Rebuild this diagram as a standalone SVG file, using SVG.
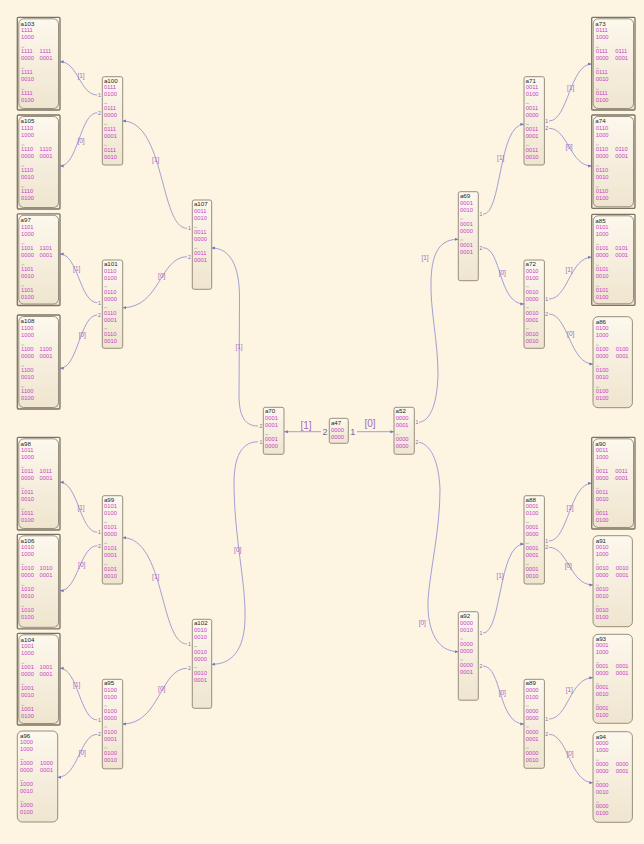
<svg xmlns="http://www.w3.org/2000/svg" width="644" height="844" viewBox="0 0 644 844">
<defs>
<linearGradient id="g" x1="0" y1="0" x2="0" y2="1"><stop offset="0" stop-color="#fdf8ed"/><stop offset="1" stop-color="#efe5cf"/></linearGradient>
<marker id="a" viewBox="0 0 6 6" refX="6" refY="3" markerWidth="3.6" markerHeight="3.6" markerUnits="userSpaceOnUse" orient="auto"><path d="M0,0.4L6,3L0,5.6z" fill="#7474bc"/></marker>
<style>
.b{fill:url(#g);stroke:#8b8373;stroke-width:0.9}
.o{fill:url(#g);stroke:#7b7363;stroke-width:1.3}
text{font-family:"Liberation Sans",Arial,sans-serif}
.t{font-size:6.2px;fill:#1e1e1e}
.v{font-size:5.8px;fill:#c93ec9}
.d{stroke:#aaa39a;stroke-width:0.6;fill:none}
.p{font-size:5px;fill:#6870a8;text-anchor:middle}
.P{font-size:9px;fill:#6870a8;text-anchor:middle}
.e{fill:none;stroke:#8a8ad2;stroke-width:0.8;marker-end:url(#a)}
.l{font-size:6.5px;fill:#a06cc6;text-anchor:middle}
.L{font-size:10px;fill:#a06cc6;text-anchor:middle}
</style>
</defs>
<rect width="644" height="844" fill="#fdf4e2"/>

<g id="connectors">
<path class="e" d="M97.3,95C80,95 78,61.7 60,61.7"/>
<path class="e" d="M97.3,112.7C80,112.7 78,166 60,166"/>
<path class="e" d="M97.3,302.7C80,302.7 78,254 60,254"/>
<path class="e" d="M97.3,315C80,315 78,368.3 60,368.3"/>
<path class="e" d="M97.3,532.3C80,532.3 78,482.3 60,482.3"/>
<path class="e" d="M97.3,545.7C80,545.7 78,590.7 60,590.7"/>
<path class="e" d="M97.3,720C80,720 78,668.3 60,668.3"/>
<path class="e" d="M97.3,734.3C80,734.3 78,777.3 57.7,777.3"/>
<path class="e" d="M187,228.3C160,228.3 165,121 122.7,121"/>
<path class="e" d="M187,256.7C160,256.7 160,307.7 122.7,307.7"/>
<path class="e" d="M187,644C160,644 165,537.7 122.7,537.7"/>
<path class="e" d="M187,668.3C160,668.3 160,724 122.7,724"/>
<path class="e" d="M258,426C246,426 239,418 239,395L239.5,300C240,262 228,248 211.7,248"/>
<path class="e" d="M258,441.7C244,442 235,452 234,480C234,540 246,580 245,620C244,650 232,664.3 211.7,664.3"/>
<path class="e" d="M321,431.7L284.3,431.7"/>
<path class="e" d="M357,431.7L394,431.7"/>
<path class="e" d="M419,422.3C430,421 437,405 438,375C438,340 430,310 431,280C432,252 440,239.3 458.3,239.3"/>
<path class="e" d="M419,442.3C430,444 439,460 440,490C440,530 430,570 428,600C427,632 438,651.7 458.3,651.7"/>
<path class="e" d="M483,214.3C502,214.3 498,124.3 524,124.3"/>
<path class="e" d="M483,247.7C502,247.7 498,304 524,304"/>
<path class="e" d="M483,633C502,633 498,544 524,544"/>
<path class="e" d="M483,666C502,666 498,724 524,724"/>
<path class="e" d="M549,121C568,121 570,64 591.7,64"/>
<path class="e" d="M549,128.3C568,128.3 570,166 591.7,166"/>
<path class="e" d="M549,299C568,299 570,257.3 591.7,257.3"/>
<path class="e" d="M549,314C568,314 570,364 593,364"/>
<path class="e" d="M549,541C568,541 570,483.3 591.7,483.3"/>
<path class="e" d="M549,547.3C568,547.3 570,585 593,585"/>
<path class="e" d="M549,719C568,719 570,677.7 593,677.7"/>
<path class="e" d="M549,734.3C568,734.3 570,782.7 593,782.7"/>
<text class="l" x="81" y="78.3">[1]</text>
<text class="l" x="81" y="143">[0]</text>
<text class="l" x="76.7" y="270.6">[1]</text>
<text class="l" x="82.3" y="336.6">[0]</text>
<text class="l" x="81" y="509.6">[1]</text>
<text class="l" x="81.7" y="566.6">[0]</text>
<text class="l" x="76.7" y="686.6">[1]</text>
<text class="l" x="82.3" y="754.6">[0]</text>
<text class="l" x="155.7" y="161.6">[1]</text>
<text class="l" x="161.7" y="278">[0]</text>
<text class="l" x="155.7" y="579">[1]</text>
<text class="l" x="161.7" y="690.6">[0]</text>
<text class="l" x="239" y="349">[1]</text>
<text class="l" x="237.7" y="552.3">[0]</text>
<text class="L" x="306" y="429.3">[1]</text>
<text class="L" x="370" y="427">[0]</text>
<text class="l" x="425" y="259.6">[1]</text>
<text class="l" x="422.3" y="625.3">[0]</text>
<text class="l" x="500.7" y="160">[1]</text>
<text class="l" x="502.3" y="275">[0]</text>
<text class="l" x="500" y="578.3">[1]</text>
<text class="l" x="502.3" y="694.6">[0]</text>
<text class="l" x="570.7" y="89.6">[1]</text>
<text class="l" x="569" y="149">[0]</text>
<text class="l" x="569" y="271.6">[1]</text>
<text class="l" x="570.7" y="336.3">[0]</text>
<text class="l" x="570" y="509.6">[1]</text>
<text class="l" x="568.3" y="568.3">[0]</text>
<text class="l" x="569.3" y="691.6">[1]</text>
<text class="l" x="570" y="755.6">[0]</text>
<text class="p" x="99.5" y="96.8">1</text>
<text class="p" x="99.5" y="114.5">2</text>
<text class="p" x="99.5" y="304.5">1</text>
<text class="p" x="99.5" y="316.8">2</text>
<text class="p" x="99.5" y="534.1">1</text>
<text class="p" x="99.5" y="547.5">2</text>
<text class="p" x="99.5" y="721.8">1</text>
<text class="p" x="99.5" y="736.1">2</text>
<text class="p" x="189.5" y="230.1">1</text>
<text class="p" x="189.5" y="258.5">2</text>
<text class="p" x="189.5" y="645.8">1</text>
<text class="p" x="189.5" y="670.1">2</text>
<text class="p" x="260.8" y="427.8">2</text>
<text class="p" x="260.8" y="443.5">1</text>
<text class="P" x="325" y="434.9">2</text>
<text class="P" x="352.7" y="434.9">1</text>
<text class="p" x="416.8" y="424.1">1</text>
<text class="p" x="416.8" y="444.1">2</text>
<text class="p" x="481" y="216.1">1</text>
<text class="p" x="481" y="249.5">2</text>
<text class="p" x="481" y="634.8">1</text>
<text class="p" x="481" y="667.8">2</text>
<text class="p" x="546.7" y="122.8">1</text>
<text class="p" x="546.7" y="130.1">2</text>
<text class="p" x="546.7" y="300.8">1</text>
<text class="p" x="546.7" y="315.8">2</text>
<text class="p" x="546.7" y="542.8">1</text>
<text class="p" x="546.7" y="549.1">2</text>
<text class="p" x="546.7" y="720.8">1</text>
<text class="p" x="546.7" y="736.1">2</text>
</g>

<g id="a103" transform="translate(17.3,17.3)"><rect class="o" width="42.7" height="92.7" rx="1"/><rect class="b" x="1.5" y="1.5" width="39.7" height="89.7" rx="5"/><text class="t" x="3.3" y="8.3">a103</text><text class="v"><tspan x="3.8" y="15">1111</tspan><tspan x="3.8" y="22">1000</tspan><tspan x="3.8" y="36">1111</tspan><tspan x="22.3" y="36">1111</tspan><tspan x="3.8" y="43">0000</tspan><tspan x="22.3" y="43">0001</tspan><tspan x="3.8" y="57">1111</tspan><tspan x="3.8" y="64">0010</tspan><tspan x="3.8" y="78">1111</tspan><tspan x="3.8" y="85">0100</tspan></text><path class="d" d="M4,30h3M4,51h3M4,72h3"/></g>
<g id="a105" transform="translate(17.3,115)"><rect class="o" width="42.7" height="94" rx="1"/><rect class="b" x="1.5" y="1.5" width="39.7" height="91" rx="5"/><text class="t" x="3.3" y="8.3">a105</text><text class="v"><tspan x="3.8" y="15">1110</tspan><tspan x="3.8" y="22">1000</tspan><tspan x="3.8" y="36">1110</tspan><tspan x="22.3" y="36">1110</tspan><tspan x="3.8" y="43">0000</tspan><tspan x="22.3" y="43">0001</tspan><tspan x="3.8" y="57">1110</tspan><tspan x="3.8" y="64">0010</tspan><tspan x="3.8" y="78">1110</tspan><tspan x="3.8" y="85">0100</tspan></text><path class="d" d="M4,30h3M4,51h3M4,72h3"/></g>
<g id="a97" transform="translate(17.3,213.8)"><rect class="o" width="42.7" height="91.7" rx="1"/><rect class="b" x="1.5" y="1.5" width="39.7" height="88.7" rx="5"/><text class="t" x="3.3" y="8.3">a97</text><text class="v"><tspan x="3.8" y="15">1101</tspan><tspan x="3.8" y="22">1000</tspan><tspan x="3.8" y="36">1101</tspan><tspan x="22.3" y="36">1101</tspan><tspan x="3.8" y="43">0000</tspan><tspan x="22.3" y="43">0001</tspan><tspan x="3.8" y="57">1101</tspan><tspan x="3.8" y="64">0010</tspan><tspan x="3.8" y="78">1101</tspan><tspan x="3.8" y="85">0100</tspan></text><path class="d" d="M4,30h3M4,51h3M4,72h3"/></g>
<g id="a108" transform="translate(17.3,315)"><rect class="o" width="42.7" height="94" rx="1"/><rect class="b" x="1.5" y="1.5" width="39.7" height="91" rx="5"/><text class="t" x="3.3" y="8.3">a108</text><text class="v"><tspan x="3.8" y="15">1100</tspan><tspan x="3.8" y="22">1000</tspan><tspan x="3.8" y="36">1100</tspan><tspan x="22.3" y="36">1100</tspan><tspan x="3.8" y="43">0000</tspan><tspan x="22.3" y="43">0001</tspan><tspan x="3.8" y="57">1100</tspan><tspan x="3.8" y="64">0010</tspan><tspan x="3.8" y="78">1100</tspan><tspan x="3.8" y="85">0100</tspan></text><path class="d" d="M4,30h3M4,51h3M4,72h3"/></g>
<g id="a98" transform="translate(17.3,437.3)"><rect class="o" width="42.7" height="92.7" rx="1"/><rect class="b" x="1.5" y="1.5" width="39.7" height="89.7" rx="5"/><text class="t" x="3.3" y="8.3">a98</text><text class="v"><tspan x="3.8" y="15">1011</tspan><tspan x="3.8" y="22">1000</tspan><tspan x="3.8" y="36">1011</tspan><tspan x="22.3" y="36">1011</tspan><tspan x="3.8" y="43">0000</tspan><tspan x="22.3" y="43">0001</tspan><tspan x="3.8" y="57">1011</tspan><tspan x="3.8" y="64">0010</tspan><tspan x="3.8" y="78">1011</tspan><tspan x="3.8" y="85">0100</tspan></text><path class="d" d="M4,30h3M4,51h3M4,72h3"/></g>
<g id="a106" transform="translate(17.3,534.3)"><rect class="o" width="42.7" height="94.5" rx="1"/><rect class="b" x="1.5" y="1.5" width="39.7" height="91.5" rx="5"/><text class="t" x="3.3" y="8.3">a106</text><text class="v"><tspan x="3.8" y="15">1010</tspan><tspan x="3.8" y="22">1000</tspan><tspan x="3.8" y="36">1010</tspan><tspan x="22.3" y="36">1010</tspan><tspan x="3.8" y="43">0000</tspan><tspan x="22.3" y="43">0001</tspan><tspan x="3.8" y="57">1010</tspan><tspan x="3.8" y="64">0010</tspan><tspan x="3.8" y="78">1010</tspan><tspan x="3.8" y="85">0100</tspan></text><path class="d" d="M4,30h3M4,51h3M4,72h3"/></g>
<g id="a104" transform="translate(17.3,633.3)"><rect class="o" width="42.7" height="91.7" rx="1"/><rect class="b" x="1.5" y="1.5" width="39.7" height="88.7" rx="5"/><text class="t" x="3.3" y="8.3">a104</text><text class="v"><tspan x="3.8" y="15">1001</tspan><tspan x="3.8" y="22">1000</tspan><tspan x="3.8" y="36">1001</tspan><tspan x="22.3" y="36">1001</tspan><tspan x="3.8" y="43">0000</tspan><tspan x="22.3" y="43">0001</tspan><tspan x="3.8" y="57">1001</tspan><tspan x="3.8" y="64">0010</tspan><tspan x="3.8" y="78">1001</tspan><tspan x="3.8" y="85">0100</tspan></text><path class="d" d="M4,30h3M4,51h3M4,72h3"/></g>
<g id="a96" transform="translate(17.3,731)"><rect class="b" width="40.4" height="91" rx="5"/><text class="t" x="2.7" y="7.2">a96</text><text class="v"><tspan x="2.7" y="13">1000</tspan><tspan x="2.7" y="20">1000</tspan><tspan x="2.7" y="34">1000</tspan><tspan x="22.7" y="34">1000</tspan><tspan x="2.7" y="41">0000</tspan><tspan x="22.7" y="41">0001</tspan><tspan x="2.7" y="55">1000</tspan><tspan x="2.7" y="62">0010</tspan><tspan x="2.7" y="76">1000</tspan><tspan x="2.7" y="83">0100</tspan></text><path class="d" d="M3,28.5h3M3,49.5h3M3,70.5h3"/></g>

<g id="a73" transform="translate(591.7,17.3)"><rect class="o" width="43.3" height="92.7" rx="1"/><rect class="b" x="1.5" y="1.5" width="40.3" height="89.7" rx="5"/><text class="t" x="3.6" y="8.3">a73</text><text class="v"><tspan x="4" y="15">0111</tspan><tspan x="4" y="22">1000</tspan><tspan x="4" y="36">0111</tspan><tspan x="23.5" y="36">0111</tspan><tspan x="4" y="43">0000</tspan><tspan x="23.5" y="43">0001</tspan><tspan x="4" y="57">0111</tspan><tspan x="4" y="64">0010</tspan><tspan x="4" y="78">0111</tspan><tspan x="4" y="85">0100</tspan></text><path class="d" d="M4.2,30h3M4.2,51h3M4.2,72h3"/></g>
<g id="a74" transform="translate(591.7,115)"><rect class="o" width="43.3" height="93.3" rx="1"/><rect class="b" x="1.5" y="1.5" width="40.3" height="90.3" rx="5"/><text class="t" x="3.6" y="8.3">a74</text><text class="v"><tspan x="4" y="15">0110</tspan><tspan x="4" y="22">1000</tspan><tspan x="4" y="36">0110</tspan><tspan x="23.5" y="36">0110</tspan><tspan x="4" y="43">0000</tspan><tspan x="23.5" y="43">0001</tspan><tspan x="4" y="57">0110</tspan><tspan x="4" y="64">0010</tspan><tspan x="4" y="78">0110</tspan><tspan x="4" y="85">0100</tspan></text><path class="d" d="M4.2,30h3M4.2,51h3M4.2,72h3"/></g>
<g id="a85" transform="translate(591.7,214.3)"><rect class="o" width="43.3" height="91" rx="1"/><rect class="b" x="1.5" y="1.5" width="40.3" height="88" rx="5"/><text class="t" x="3.6" y="8.3">a85</text><text class="v"><tspan x="4" y="15">0101</tspan><tspan x="4" y="22">1000</tspan><tspan x="4" y="36">0101</tspan><tspan x="23.5" y="36">0101</tspan><tspan x="4" y="43">0000</tspan><tspan x="23.5" y="43">0001</tspan><tspan x="4" y="57">0101</tspan><tspan x="4" y="64">0010</tspan><tspan x="4" y="78">0101</tspan><tspan x="4" y="85">0100</tspan></text><path class="d" d="M4.2,30h3M4.2,51h3M4.2,72h3"/></g>
<g id="a86" transform="translate(593,316.7)"><rect class="b" width="39.4" height="91" rx="5"/><text class="t" x="2.7" y="7.2">a86</text><text class="v"><tspan x="2.7" y="13">0100</tspan><tspan x="2.7" y="20">1000</tspan><tspan x="2.7" y="34">0100</tspan><tspan x="22.7" y="34">0100</tspan><tspan x="2.7" y="41">0000</tspan><tspan x="22.7" y="41">0001</tspan><tspan x="2.7" y="55">0100</tspan><tspan x="2.7" y="62">0010</tspan><tspan x="2.7" y="76">0100</tspan><tspan x="2.7" y="83">0100</tspan></text><path class="d" d="M3,28.5h3M3,49.5h3M3,70.5h3"/></g>
<g id="a90" transform="translate(591.7,437.3)"><rect class="o" width="43.3" height="91.7" rx="1"/><rect class="b" x="1.5" y="1.5" width="40.3" height="88.7" rx="5"/><text class="t" x="3.6" y="8.3">a90</text><text class="v"><tspan x="4" y="15">0011</tspan><tspan x="4" y="22">1000</tspan><tspan x="4" y="36">0011</tspan><tspan x="23.5" y="36">0011</tspan><tspan x="4" y="43">0000</tspan><tspan x="23.5" y="43">0001</tspan><tspan x="4" y="57">0011</tspan><tspan x="4" y="64">0010</tspan><tspan x="4" y="78">0011</tspan><tspan x="4" y="85">0100</tspan></text><path class="d" d="M4.2,30h3M4.2,51h3M4.2,72h3"/></g>
<g id="a91" transform="translate(593,535.7)"><rect class="b" width="39.4" height="91" rx="5"/><text class="t" x="2.7" y="7.2">a91</text><text class="v"><tspan x="2.7" y="13">0010</tspan><tspan x="2.7" y="20">1000</tspan><tspan x="2.7" y="34">0010</tspan><tspan x="22.7" y="34">0010</tspan><tspan x="2.7" y="41">0000</tspan><tspan x="22.7" y="41">0001</tspan><tspan x="2.7" y="55">0010</tspan><tspan x="2.7" y="62">0010</tspan><tspan x="2.7" y="76">0010</tspan><tspan x="2.7" y="83">0100</tspan></text><path class="d" d="M3,28.5h3M3,49.5h3M3,70.5h3"/></g>
<g id="a93" transform="translate(593,634.3)"><rect class="b" width="39.4" height="89" rx="5"/><text class="t" x="2.7" y="7.2">a93</text><text class="v"><tspan x="2.7" y="13">0001</tspan><tspan x="2.7" y="20">1000</tspan><tspan x="2.7" y="34">0001</tspan><tspan x="22.7" y="34">0001</tspan><tspan x="2.7" y="41">0000</tspan><tspan x="22.7" y="41">0001</tspan><tspan x="2.7" y="55">0001</tspan><tspan x="2.7" y="62">0010</tspan><tspan x="2.7" y="76">0001</tspan><tspan x="2.7" y="83">0100</tspan></text><path class="d" d="M3,28.5h3M3,49.5h3M3,70.5h3"/></g>
<g id="a94" transform="translate(593,731.7)"><rect class="b" width="39.4" height="90.6" rx="5"/><text class="t" x="2.7" y="7.2">a94</text><text class="v"><tspan x="2.7" y="13">0000</tspan><tspan x="2.7" y="20">1000</tspan><tspan x="2.7" y="34">0000</tspan><tspan x="22.7" y="34">0000</tspan><tspan x="2.7" y="41">0000</tspan><tspan x="22.7" y="41">0001</tspan><tspan x="2.7" y="55">0000</tspan><tspan x="2.7" y="62">0010</tspan><tspan x="2.7" y="76">0000</tspan><tspan x="2.7" y="83">0100</tspan></text><path class="d" d="M3,28.5h3M3,49.5h3M3,70.5h3"/></g>

<g id="a100" transform="translate(102.3,76.7)"><rect class="b" width="20.4" height="88.3" rx="2"/><text class="t" x="1.6" y="6.2">a100</text><text class="v"><tspan x="1.7" y="12.7">0111</tspan><tspan x="1.7" y="19.7">0100</tspan><tspan x="1.7" y="33.7">0111</tspan><tspan x="1.7" y="40.7">0000</tspan><tspan x="1.7" y="54.7">0111</tspan><tspan x="1.7" y="61.7">0001</tspan><tspan x="1.7" y="75.7">0111</tspan><tspan x="1.7" y="82.7">0010</tspan></text><path class="d" d="M1.9,26.7h3M1.9,47.7h3M1.9,68.7h3"/></g>
<g id="a101" transform="translate(102.3,260)"><rect class="b" width="20.4" height="88.3" rx="2"/><text class="t" x="1.6" y="6.2">a101</text><text class="v"><tspan x="1.7" y="12.7">0110</tspan><tspan x="1.7" y="19.7">0100</tspan><tspan x="1.7" y="33.7">0110</tspan><tspan x="1.7" y="40.7">0000</tspan><tspan x="1.7" y="54.7">0110</tspan><tspan x="1.7" y="61.7">0001</tspan><tspan x="1.7" y="75.7">0110</tspan><tspan x="1.7" y="82.7">0010</tspan></text><path class="d" d="M1.9,26.7h3M1.9,47.7h3M1.9,68.7h3"/></g>
<g id="a99" transform="translate(102.3,495.7)"><rect class="b" width="20.4" height="88.3" rx="2"/><text class="t" x="1.6" y="6.2">a99</text><text class="v"><tspan x="1.7" y="12.7">0101</tspan><tspan x="1.7" y="19.7">0100</tspan><tspan x="1.7" y="33.7">0101</tspan><tspan x="1.7" y="40.7">0000</tspan><tspan x="1.7" y="54.7">0101</tspan><tspan x="1.7" y="61.7">0001</tspan><tspan x="1.7" y="75.7">0101</tspan><tspan x="1.7" y="82.7">0010</tspan></text><path class="d" d="M1.9,26.7h3M1.9,47.7h3M1.9,68.7h3"/></g>
<g id="a95" transform="translate(102.3,679.3)"><rect class="b" width="20.4" height="89.5" rx="2"/><text class="t" x="1.6" y="6.2">a95</text><text class="v"><tspan x="1.7" y="12.7">0100</tspan><tspan x="1.7" y="19.7">0100</tspan><tspan x="1.7" y="33.7">0100</tspan><tspan x="1.7" y="40.7">0000</tspan><tspan x="1.7" y="54.7">0100</tspan><tspan x="1.7" y="61.7">0001</tspan><tspan x="1.7" y="75.7">0100</tspan><tspan x="1.7" y="82.7">0010</tspan></text><path class="d" d="M1.9,26.7h3M1.9,47.7h3M1.9,68.7h3"/></g>
<g id="a71" transform="translate(524,76.7)"><rect class="b" width="20.4" height="88.3" rx="2"/><text class="t" x="1.6" y="6.2">a71</text><text class="v"><tspan x="1.7" y="12.7">0011</tspan><tspan x="1.7" y="19.7">0100</tspan><tspan x="1.7" y="33.7">0011</tspan><tspan x="1.7" y="40.7">0000</tspan><tspan x="1.7" y="54.7">0011</tspan><tspan x="1.7" y="61.7">0001</tspan><tspan x="1.7" y="75.7">0011</tspan><tspan x="1.7" y="82.7">0010</tspan></text><path class="d" d="M1.9,26.7h3M1.9,47.7h3M1.9,68.7h3"/></g>
<g id="a72" transform="translate(524,260)"><rect class="b" width="20.4" height="88.3" rx="2"/><text class="t" x="1.6" y="6.2">a72</text><text class="v"><tspan x="1.7" y="12.7">0010</tspan><tspan x="1.7" y="19.7">0100</tspan><tspan x="1.7" y="33.7">0010</tspan><tspan x="1.7" y="40.7">0000</tspan><tspan x="1.7" y="54.7">0010</tspan><tspan x="1.7" y="61.7">0001</tspan><tspan x="1.7" y="75.7">0010</tspan><tspan x="1.7" y="82.7">0010</tspan></text><path class="d" d="M1.9,26.7h3M1.9,47.7h3M1.9,68.7h3"/></g>
<g id="a88" transform="translate(524,495.7)"><rect class="b" width="20.4" height="88.3" rx="2"/><text class="t" x="1.6" y="6.2">a88</text><text class="v"><tspan x="1.7" y="12.7">0001</tspan><tspan x="1.7" y="19.7">0100</tspan><tspan x="1.7" y="33.7">0001</tspan><tspan x="1.7" y="40.7">0000</tspan><tspan x="1.7" y="54.7">0001</tspan><tspan x="1.7" y="61.7">0001</tspan><tspan x="1.7" y="75.7">0001</tspan><tspan x="1.7" y="82.7">0010</tspan></text><path class="d" d="M1.9,26.7h3M1.9,47.7h3M1.9,68.7h3"/></g>
<g id="a89" transform="translate(524,679.3)"><rect class="b" width="20.4" height="89" rx="2"/><text class="t" x="1.6" y="6.2">a89</text><text class="v"><tspan x="1.7" y="12.7">0000</tspan><tspan x="1.7" y="19.7">0100</tspan><tspan x="1.7" y="33.7">0000</tspan><tspan x="1.7" y="40.7">0000</tspan><tspan x="1.7" y="54.7">0000</tspan><tspan x="1.7" y="61.7">0001</tspan><tspan x="1.7" y="75.7">0000</tspan><tspan x="1.7" y="82.7">0010</tspan></text><path class="d" d="M1.9,26.7h3M1.9,47.7h3M1.9,68.7h3"/></g>

<g id="a107" transform="translate(192.3,200)"><rect class="b" width="19.4" height="89.3" rx="2"/><text class="t" x="1.6" y="6.2">a107</text><text class="v"><tspan x="1.7" y="13.1">0011</tspan><tspan x="1.7" y="20.1">0010</tspan><tspan x="1.7" y="34.4">0011</tspan><tspan x="1.7" y="41.4">0000</tspan><tspan x="1.7" y="55.4">0011</tspan><tspan x="1.7" y="62.4">0001</tspan></text><path class="d" d="M1.9,27.3h3M1.9,48.3h3"/></g>
<g id="a102" transform="translate(192.3,619.3)"><rect class="b" width="19.4" height="89" rx="2"/><text class="t" x="1.6" y="6.2">a102</text><text class="v"><tspan x="1.7" y="13.1">0010</tspan><tspan x="1.7" y="20.1">0010</tspan><tspan x="1.7" y="34.4">0010</tspan><tspan x="1.7" y="41.4">0000</tspan><tspan x="1.7" y="55.4">0010</tspan><tspan x="1.7" y="62.4">0001</tspan></text><path class="d" d="M1.9,27.3h3M1.9,48.3h3"/></g>
<g id="a69" transform="translate(458.3,191.7)"><rect class="b" width="20" height="89" rx="2"/><text class="t" x="1.6" y="6.2">a69</text><text class="v"><tspan x="1.7" y="13.1">0001</tspan><tspan x="1.7" y="20.1">0010</tspan><tspan x="1.7" y="34.4">0001</tspan><tspan x="1.7" y="41.4">0000</tspan><tspan x="1.7" y="55.4">0001</tspan><tspan x="1.7" y="62.4">0001</tspan></text><path class="d" d="M1.9,27.3h3M1.9,48.3h3"/></g>
<g id="a92" transform="translate(458.3,611.7)"><rect class="b" width="20" height="88.5" rx="2"/><text class="t" x="1.6" y="6.2">a92</text><text class="v"><tspan x="1.7" y="13.1">0000</tspan><tspan x="1.7" y="20.1">0010</tspan><tspan x="1.7" y="34.4">0000</tspan><tspan x="1.7" y="41.4">0000</tspan><tspan x="1.7" y="55.4">0000</tspan><tspan x="1.7" y="62.4">0001</tspan></text><path class="d" d="M1.9,27.3h3M1.9,48.3h3"/></g>

<g id="a70" transform="translate(263.3,407.3)"><rect class="b" width="20.7" height="47" rx="2"/><text class="t" x="1.6" y="5.7">a70</text><text class="v"><tspan x="1.7" y="13">0001</tspan><tspan x="1.7" y="19.8">0001</tspan><tspan x="1.7" y="33.8">0001</tspan><tspan x="1.7" y="40.5">0000</tspan></text><path class="d" d="M1.9,27.3h3"/></g>
<g id="a47" transform="translate(329.3,418.3)"><rect class="b" width="19" height="25" rx="2"/><text class="t" x="1.6" y="6.5">a47</text><text class="v"><tspan x="1.7" y="13.8">0000</tspan><tspan x="1.7" y="20.5">0000</tspan></text></g>
<g id="a52" transform="translate(394,407.3)"><rect class="b" width="20.3" height="47" rx="2"/><text class="t" x="1.6" y="5.7">a52</text><text class="v"><tspan x="1.7" y="13">0000</tspan><tspan x="1.7" y="19.8">0001</tspan><tspan x="1.7" y="33.8">0000</tspan><tspan x="1.7" y="40.5">0000</tspan></text><path class="d" d="M1.9,27.3h3"/></g>
</svg>
